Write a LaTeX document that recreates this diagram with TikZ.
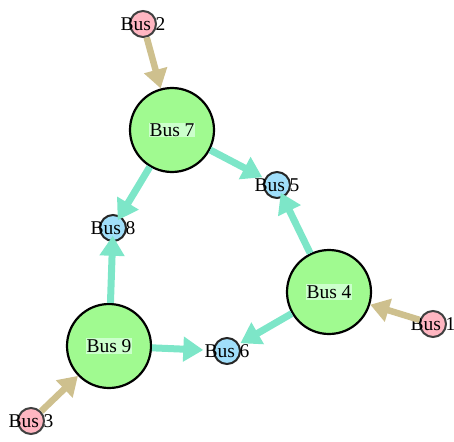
\documentclass[tikz,border=0pt]{standalone}
\usepackage{fontspec}
\setmainfont{Liberation Serif}
\usepackage{xcolor}
\definecolor{genpink}{RGB}{255,182,193}
\definecolor{loadblue}{RGB}{160,222,250}
\definecolor{busgreen}{RGB}{160,250,144}
\definecolor{lblgreen}{RGB}{204,255,204}
\definecolor{lineteal}{RGB}{125,230,200}
\definecolor{gentan}{RGB}{206,192,142}
\usepackage{tikz}
\usetikzlibrary{
    arrows.meta,
    positioning
}
\tikzset{
    bigbus/.style     = {circle, draw=black, fill=busgreen, line width=2.2pt,
                         minimum size=84pt, inner sep=0pt},
    bigtext/.style    = {rectangle, fill=lblgreen, inner sep=1pt,
                         font=\fontsize{19.5}{21}\selectfont},
    gendot/.style     = {circle, draw=black!75, fill=genpink, line width=2pt,
                         minimum size=26pt, inner sep=0pt},
    loaddot/.style    = {circle, draw=black!85, fill=loadblue, line width=2pt,
                         minimum size=26pt, inner sep=0pt},
    smalltext/.style  = {rectangle, inner sep=1pt,
                         font=\fontsize{19.5}{21}\selectfont},
    lineArrow/.style  = {-{Triangle[length=20pt,width=24pt]}, line width=7pt,
                         draw=lineteal},
    genArrow/.style   = {-{Triangle[length=19pt,width=23pt]}, line width=6.5pt,
                         draw=gentan}
}
\begin{document}
\begin{tikzpicture}[x=1pt, y=-1pt]
\useasboundingbox (0,0) rectangle (454,441);
% big buses
\node[bigbus] (b7c) at (172,130) {};
\node[bigbus] (b4c) at (329,292) {};
\node[bigbus] (b9c) at (109,346) {};
% small buses
\node[gendot]  (b2c) at (143,24)  {};
\node[gendot]  (b1c) at (433,324) {};
\node[gendot]  (b3c) at (31,421)  {};
\node[loaddot] (b5c) at (277,185) {};
\node[loaddot] (b8c) at (113,228) {};
\node[loaddot] (b6c) at (227,351) {};
% labels
\node[bigtext]   (b7) at (b7c) {Bus 7};
\node[bigtext]   (b4) at (b4c) {Bus 4};
\node[bigtext]   (b9) at (b9c) {Bus 9};
\node[smalltext] (b2) at (b2c) {Bus 2};
\node[smalltext] (b1) at (b1c) {Bus 1};
\node[smalltext] (b3) at (b3c) {Bus 3};
\node[smalltext] (b5) at (b5c) {Bus 5};
\node[smalltext] (b8) at (b8c) {Bus 8};
\node[smalltext] (b6) at (b6c) {Bus 6};
% edges
\foreach \a/\b in {b7c/b5,b7c/b8,b4c/b5,b4c/b6,b9c/b8,b9c/b6}
   \draw[lineArrow] (\a) -- (\b);
\foreach \a/\b in {b2c/b7c,b1c/b4c,b3c/b9c}
   \draw[genArrow] (\a) -- (\b);
\end{tikzpicture}
\end{document}
